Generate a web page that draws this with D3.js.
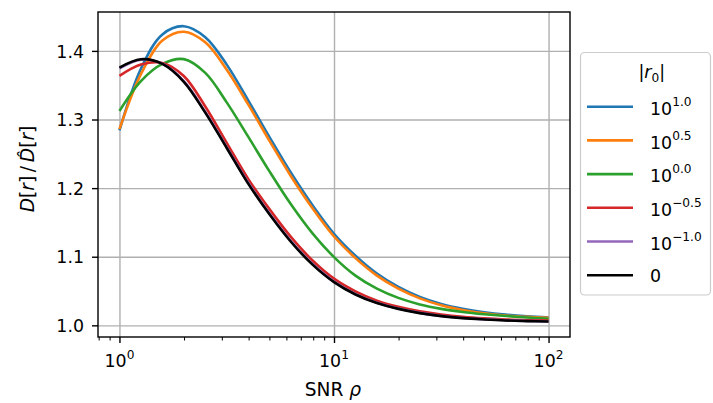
<!DOCTYPE html>
<html>
<head>
<meta charset="utf-8">
<script src="https://cdn.jsdelivr.net/npm/d3@7"></script>
<style>
  body { margin: 0; background: #fff; }
  svg { font-family: "DejaVu Sans", sans-serif; }
</style>
</head>
<body>
<div id="chart"></div>
<script>
// SNR rho (x axis, log scale)
const snr = [1, 1.259, 1.585, 1.995, 2.512, 3.162, 3.981, 5.012, 6.31, 7.943,
             10, 12.59, 15.85, 19.95, 25.12, 31.62, 39.81, 50.12, 63.1, 79.43, 100]

// D[r] / D^[r] for each |r0|
const ratioR0_1e1   = [1.284, 1.374, 1.424, 1.436, 1.420, 1.380, 1.328, 1.274, 1.222, 1.175, 1.1335,
                       1.1015, 1.0755, 1.056, 1.0415, 1.0312, 1.0241, 1.0191, 1.0156, 1.0132, 1.0115]
const ratioR0_1e05  = [1.286, 1.366, 1.415, 1.428, 1.4125, 1.3725, 1.322, 1.2685, 1.217, 1.1705, 1.1295,
                       1.098, 1.0725, 1.0535, 1.0393, 1.0293, 1.0224, 1.0176, 1.0143, 1.0123, 1.011]
const ratioR0_1e0   = [1.3125, 1.356, 1.381, 1.388, 1.368, 1.325, 1.275, 1.224, 1.176, 1.134, 1.0995,
                       1.0725, 1.0535, 1.040, 1.0305, 1.024, 1.0195, 1.0162, 1.0136, 1.0115, 1.0097]
const ratioR0_1em05 = [1.3636, 1.380, 1.3825, 1.3635, 1.319, 1.266, 1.2135, 1.169, 1.1285, 1.0945, 1.068,
                       1.0495, 1.036, 1.027, 1.0205, 1.0158, 1.0124, 1.0101, 1.0085, 1.0075, 1.0068]
const ratioR0_1em1  = [1.3745, 1.3872, 1.3812, 1.3558, 1.311, 1.2596, 1.2078, 1.1627, 1.1226, 1.0894, 1.0638,
                       1.0456, 1.033, 1.0245, 1.0182, 1.0137, 1.0107, 1.0088, 1.0073, 1.0064, 1.0057]
const ratioR0_zero  = [1.3757, 1.3878, 1.381, 1.355, 1.310, 1.2585, 1.2065, 1.1615, 1.1215, 1.0885, 1.063,
                       1.045, 1.0324, 1.024, 1.0178, 1.0134, 1.0105, 1.0086, 1.0071, 1.0062, 1.0055]

const seriesExp = ["1.0", "0.5", "0.0", "\u22120.5", "\u22121.0", null]   // null -> label "0"
const seriesColor = ["#1f77b4", "#ff7f0e", "#2ca02c", "#d62728", "#9467bd", "#000000"]
const seriesValues = [ratioR0_1e1, ratioR0_1e05, ratioR0_1e0, ratioR0_1em05, ratioR0_1em1, ratioR0_zero]

const xMajor = [1, 10, 100]
const xMinor = [0.8, 0.9, 2, 3, 4, 5, 6, 7, 8, 9, 20, 30, 40, 50, 60, 70, 80, 90]
const yTicks = [1.0, 1.1, 1.2, 1.3, 1.4]

let width = 713, height = 403
let axLeft = 98, axRight = 570, axTop = 12, axBottom = 337
let fs = 17.4, labelFs = 18.6, supFs = 12.2

let svg = d3.select("#chart").append("svg")
    .attr("width", width)
    .attr("height", height)

let x = d3.scaleLog().domain([Math.pow(10, -0.1), Math.pow(10, 2.1)]).range([axLeft, axRight])
let y = d3.scaleLinear().domain([0.983, 1.4567]).range([axBottom, axTop])

// grid
let gridX = svg.append("g")
    .attr("transform", `translate(0,${axBottom})`)
    .call(d3.axisBottom(x).tickValues(xMajor).tickSize(-(axBottom - axTop)).tickFormat(""))
let gridY = svg.append("g")
    .attr("transform", `translate(${axLeft},0)`)
    .call(d3.axisLeft(y).tickValues(yTicks).tickSize(-(axRight - axLeft)).tickFormat(""))
gridX.select(".domain").remove()
gridY.select(".domain").remove()
svg.selectAll("g .tick line").attr("stroke", "#b0b0b0").attr("stroke-width", 1.4)

// curves
let line = d3.line()
    .x((d, i) => x(snr[i]))
    .y(d => y(d))
    .curve(d3.curveCatmullRom.alpha(0.5))

svg.append("g").selectAll("path")
    .data(seriesValues)
    .enter().append("path")
    .attr("d", d => line(d))
    .attr("fill", "none")
    .attr("stroke", (d, i) => seriesColor[i])
    .attr("stroke-width", 2.6)
    .attr("stroke-linejoin", "round")
    .attr("stroke-linecap", "butt")

// spines
svg.append("rect")
    .attr("x", axLeft).attr("y", axTop)
    .attr("width", axRight - axLeft).attr("height", axBottom - axTop)
    .attr("fill", "none").attr("stroke", "#000").attr("stroke-width", 1.4)

// x ticks
let axX = svg.append("g")
    .attr("transform", `translate(0,${axBottom})`)
    .call(d3.axisBottom(x).tickValues(xMajor).tickSize(6).tickFormat(""))
let axXminor = svg.append("g")
    .attr("transform", `translate(0,${axBottom})`)
    .call(d3.axisBottom(x).tickValues(xMinor).tickSize(3.5).tickFormat(""))
axX.select(".domain").remove()
axXminor.select(".domain").remove()
axX.selectAll(".tick line").attr("stroke", "#000").attr("stroke-width", 1.4)
axXminor.selectAll(".tick line").attr("stroke", "#000").attr("stroke-width", 1)

let xLabels = svg.append("g").selectAll("text")
    .data(xMajor)
    .enter().append("text")
    .attr("x", d => x(d))
    .attr("y", 367)
    .attr("text-anchor", "middle")
    .attr("font-size", fs)
    .attr("fill", "#000")
xLabels.append("tspan").text("10")
xLabels.append("tspan")
    .attr("dy", -8.5)
    .attr("font-size", supFs)
    .text(d => Math.round(Math.log10(d)))

// y ticks
let axY = svg.append("g")
    .attr("transform", `translate(${axLeft},0)`)
    .call(d3.axisLeft(y).tickValues(yTicks).tickSize(6).tickPadding(8).tickFormat(d3.format(".1f")))
axY.select(".domain").remove()
axY.selectAll(".tick line").attr("stroke", "#000").attr("stroke-width", 1.4)
axY.selectAll(".tick text")
    .attr("font-size", fs)
    .attr("font-family", "DejaVu Sans")
    .attr("fill", "#000")
    .attr("dy", "0.36em")

// axis titles
let xTitle = svg.append("text")
    .attr("x", (axLeft + axRight) / 2 - 1)
    .attr("y", 396)
    .attr("text-anchor", "middle")
    .attr("font-size", labelFs)
xTitle.append("tspan").text("SNR\u00a0")
xTitle.append("tspan").attr("font-style", "italic").text("\u03c1")

let yTitle = svg.append("text")
    .attr("transform", "translate(34,169) rotate(-90)")
    .attr("text-anchor", "middle")
    .attr("font-size", labelFs)
yTitle.append("tspan").attr("font-style", "italic").text("D")
yTitle.append("tspan").text("[")
yTitle.append("tspan").attr("font-style", "italic").text("r")
yTitle.append("tspan").text("]\u2009/\u2009")
yTitle.append("tspan").attr("font-style", "italic").text("D\u0302")
yTitle.append("tspan").text("[")
yTitle.append("tspan").attr("font-style", "italic").text("r")
yTitle.append("tspan").text("]")

// legend
let legend = svg.append("g")
legend.append("rect")
    .attr("x", 580.5).attr("y", 52.5)
    .attr("width", 130).attr("height", 242.5)
    .attr("rx", 4)
    .attr("fill", "#fff").attr("fill-opacity", 0.8)
    .attr("stroke", "#cccccc").attr("stroke-width", 1.2)

let legTitle = legend.append("text")
    .attr("x", 651.7).attr("y", 78)
    .attr("text-anchor", "middle")
    .attr("font-size", fs)
legTitle.append("tspan").text("|")
legTitle.append("tspan").attr("font-style", "italic").text("r")
legTitle.append("tspan").attr("dy", 4).attr("font-size", supFs).text("0")
legTitle.append("tspan").attr("dy", -4).text("|")

let entryY = i => 106.7 + i * 33.7

legend.selectAll(".handle")
    .data(seriesColor)
    .enter().append("line")
    .attr("class", "handle")
    .attr("x1", 587).attr("x2", 633)
    .attr("y1", (d, i) => entryY(i)).attr("y2", (d, i) => entryY(i))
    .attr("stroke", d => d)
    .attr("stroke-width", 2.6)

let legLabels = legend.selectAll(".leglabel")
    .data(seriesExp)
    .enter().append("text")
    .attr("class", "leglabel")
    .attr("x", 650)
    .attr("y", (d, i) => entryY(i) + (d === null ? 6.5 : 8.3))
    .attr("font-size", fs)
legLabels.append("tspan").text(d => d === null ? "0" : "10")
legLabels.filter(d => d !== null).append("tspan")
    .attr("dy", -9)
    .attr("font-size", supFs)
    .text(d => d)
</script>
</body>
</html>
